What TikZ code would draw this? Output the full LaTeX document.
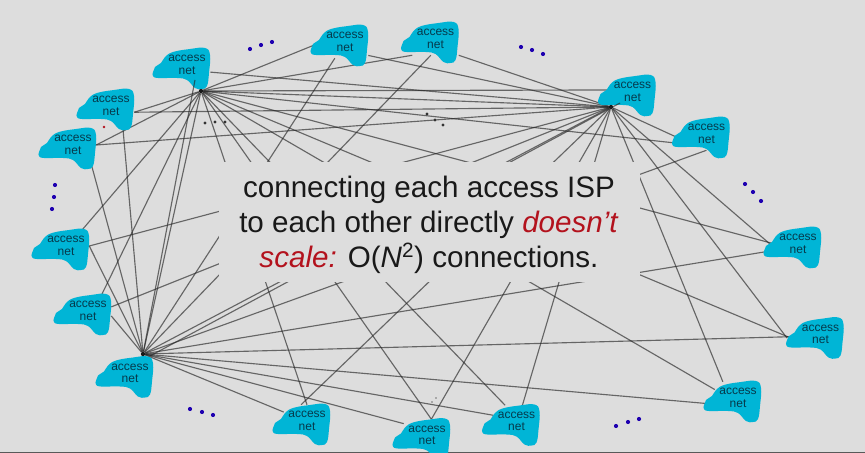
\documentclass[tikz,border=0pt]{standalone}
\usepackage{xcolor}
\usepackage{fontspec}
\setmainfont{Liberation Sans}
\usetikzlibrary{positioning}

\definecolor{slidegrey}{HTML}{DDDDDD}
\definecolor{netcyan}{HTML}{00B5D6}
\definecolor{nettext}{HTML}{063A4C}
\definecolor{alertred}{HTML}{B3121D}
\definecolor{dotblue}{HTML}{1E00B0}

\pgfdeclarelayer{back}
\pgfsetlayers{back,main}

\begin{document}
\begin{tikzpicture}[
    x=0.75pt, y=-0.75pt,
    netblob/.style={fill=netcyan},
    netlabel/.style={align=center, inner sep=0pt, minimum width=34.5pt, minimum height=24pt,
        text=nettext, font=\fontsize{9}{9.4}\selectfont},
    hubdot/.style={circle, fill=black!90, inner sep=0pt, minimum size=3.2pt},
    link/.style={draw=black!85, opacity=0.65, line width=0.85pt},
    ellipsisdot/.style={fill=dotblue},
    caption/.style={fill=slidegrey, align=center, inner sep=0pt, minimum width=315.75pt, minimum height=90pt,
        text=black!90, font=\fontsize{22.2}{26.25}\selectfont},
]
    \useasboundingbox (0,0) rectangle (865,453);

    % access networks, clockwise from the upper left
    \foreach \n/\px/\py in {a/111/106, b/73/145, c/187/65, d/345/42, e/435.5/39, f/632.5/92, g/706.5/134, h/798/244,
        i/820.5/334.5, j/738/398, k/516.5/421.5, l/427/435.5, m/307/421, n/130/373.5, o/88/311, p/66/246} {
        \fill[netblob, shift={(\px,\py)}] plot[smooth cycle, tension=0.7] coordinates {(-34,7) (-32,2) (-26,-2) (-22,-8)
            (-14,-13) (3,-16) (18,-17) (23,-10) (22,8) (20,21) (15,24) (8,23) (0,15) (-10,13) (-29,13) (-34,11)};
        \node[netlabel] (\n) at (\px,\py) {access\\net};
    }

    % the three nets wired to all the others
    \node[hubdot] (hubA) at (201,91) {};
    \node[hubdot] (hubB) at (611,107) {};
    \node[hubdot] (hubC) at (143,354) {};
    \coordinate (ctip) at (195,80);
    \coordinate (ftip) at (620,103);
    \coordinate (ntip) at (150,356);
    \coordinate (itip) at (787,338);

    \begin{pgfonlayer}{back}
        \fill[slidegrey] (0,0) rectangle (865,453);
        \fill[black!65] (0,451.5) rectangle (865,453);
        \foreach \t in {a.-15, b.east, p.45, o.50, m.north, l.75, k.125, j.160, i.195, h.west, g.203, f.175, e.south west, d.west, hubB, hubC}
            \draw[link] (hubA) -- (\t);
        \foreach \t in {a.-15, b.east, p.east, o.10, m.110, l.75, k.70, j.133, itip, h.190, g.195, d.-30, e.south east, c.-17, hubC}
            \draw[link] (hubB) -- (\t);
        \foreach \t in {a.-55, b.-43, p.east, o.-12, d.-122, e.-106, g.south, h.-165, i.185, j.195, k.165, l.153, m.159}
            \draw[link] (hubC) -- (\t);
    \end{pgfonlayer}
    \draw[link] (ctip) -- (hubC);
    \draw[link] (ftip) -- (ntip);

    \node[caption] (scaling) at (429,222) {\rule{0pt}{20pt}connecting each access ISP\\
        to each other directly \textcolor{alertred}{\textit{doesn’t}}\\
        \textcolor{alertred}{\textit{scale:}} O(\textit{N}\textsuperscript{2}) connections.};

    % ellipsis dots
    \foreach \px/\py in {250/49, 261/45, 272/42, 55/185, 54/197, 52/209, 521/47, 532/50, 543/54, 745/184, 753/192, 761/201,
        190/409, 202/412, 213/415, 616/426, 628/422, 639/419}
        \fill[ellipsisdot] (\px,\py) circle (2.1);
    \foreach \px/\py in {205/123, 215/122, 225/122, 427/114, 435/120, 443/125}
        \fill[black!80] (\px,\py) circle (1.6);
    \foreach \px/\py in {432/402, 436/398}
        \fill[black!55] (\px,\py) circle (0.8);
    \fill[alertred] (104,127) circle (1.4);
\end{tikzpicture}
\end{document}
